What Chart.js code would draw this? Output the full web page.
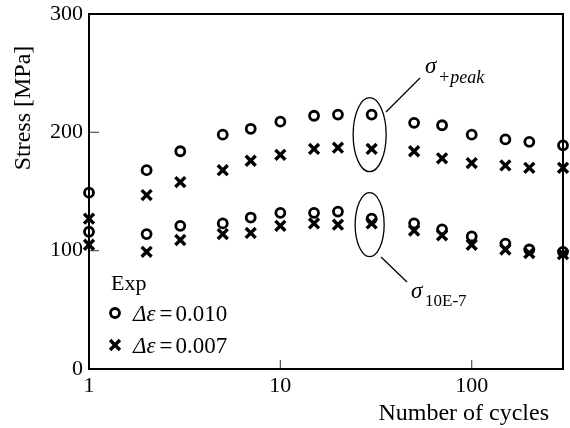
<!DOCTYPE html>
<html>
<head>
<meta charset="utf-8">
<script src="https://cdn.jsdelivr.net/npm/chart.js@4.4.1/dist/chart.umd.min.js"></script>
<style>
  html, body { margin: 0; padding: 0; background: #fff; }
  #wrap { width: 570px; height: 428px; }
</style>
</head>
<body>
<div id="wrap"><canvas id="stressChart"></canvas></div>
<script>
// cycle numbers where stresses were measured
const cycles = [1, 2, 3, 5, 7, 10, 15, 20, 30, 50, 70, 100, 150, 200, 300];

// peak stress (MPa)
const peak010 = [149, 168, 184, 198, 203, 209, 214, 215, 215, 208, 206, 198, 194, 192, 189];
const peak007 = [127, 147, 158, 168, 176, 181, 186, 187, 186, 184, 178, 174, 172, 170, 170];

// stress at 10E-7 offset (MPa)
const off010 = [116, 114, 121, 123, 128, 132, 132, 133, 127, 123, 118, 112, 106, 101, 99];
const off007 = [105, 99, 109, 114, 115, 121, 123, 122, 123, 117, 113, 105, 101, 98, 97];

const xTicks = [1, 10, 100];
const yTicks = [0, 100, 200, 300];

const SERIF = '"Liberation Serif", "Times New Roman", serif';

const toPoints = (ys) => cycles.map((c, i) => ({ x: c, y: ys[i] }));

const circleStyle = {
  pointStyle: "circle",
  pointRadius: 4.5,
  pointBorderWidth: 2.8,
  borderColor: "#000",
  backgroundColor: "rgba(0,0,0,0)",
  showLine: false,
  clip: false,
};
const crossStyle = {
  pointStyle: "crossRot",
  pointRadius: 7,
  pointBorderWidth: 3.4,
  borderColor: "#000",
  backgroundColor: "#000",
  showLine: false,
  clip: false,
};

// frame and inward ticks
const framePlugin = {
  id: "frame",
  beforeDatasetsDraw(chart) {
    const { ctx, chartArea: a, scales } = chart;
    ctx.save();
    ctx.strokeStyle = "#555";
    ctx.lineWidth = 1.2;
    [100, 200].forEach((v) => {
      const y = scales.y.getPixelForValue(v);
      ctx.beginPath();
      ctx.moveTo(a.left, y);
      ctx.lineTo(a.left + 10, y);
      ctx.stroke();
    });
    [10, 100].forEach((v) => {
      const x = scales.x.getPixelForValue(v);
      ctx.beginPath();
      ctx.moveTo(x, a.bottom);
      ctx.lineTo(x, a.bottom - 9);
      ctx.stroke();
    });
    ctx.strokeStyle = "#000";
    ctx.lineWidth = 2;
    ctx.strokeRect(a.left, a.top, a.right - a.left, a.bottom - a.top);
    ctx.restore();
  },
};

// ellipses, sigma labels, legend and axis titles
const notesPlugin = {
  id: "notes",
  afterDatasetsDraw(chart) {
    const { ctx, scales } = chart;
    ctx.save();
    ctx.strokeStyle = "#000";
    ctx.fillStyle = "#000";
    ctx.lineWidth = 1.3;

    const ell = (cx, cy, rx, ry) => {
      const px = scales.x.getPixelForValue(cx) - 2;
      const py = scales.y.getPixelForValue(cy);
      ctx.beginPath();
      ctx.ellipse(px, py, rx, ry, 0, 0, Math.PI * 2);
      ctx.stroke();
    };
    ell(30, 198, 16.5, 37);
    ell(30, 122, 14.5, 32);

    ctx.beginPath();
    ctx.moveTo(386, 112);
    ctx.lineTo(420, 78);
    ctx.moveTo(381, 257);
    ctx.lineTo(407, 282);
    ctx.stroke();

    ctx.textAlign = "left";
    ctx.textBaseline = "alphabetic";
    ctx.font = "italic 23px " + SERIF;
    ctx.fillText("σ", 425, 73);
    ctx.font = "italic 18px " + SERIF;
    ctx.fillText("+peak", 438, 83);
    ctx.font = "italic 23px " + SERIF;
    ctx.fillText("σ", 411, 298);
    ctx.font = "17px " + SERIF;
    ctx.fillText("10E-7", 425, 306);

    // legend
    ctx.font = "22px " + SERIF;
    ctx.fillText("Exp", 111, 290);
    const rows = [
      { style: circleStyle, y: 313, value: "0.010" },
      { style: crossStyle, y: 345, value: "0.007" },
    ];
    rows.forEach((r) => {
      ctx.save();
      ctx.lineWidth = r.style.pointBorderWidth;
      ctx.fillStyle = r.style.backgroundColor;
      Chart.helpers.drawPoint(ctx, {
        pointStyle: r.style.pointStyle,
        radius: r.style.pointRadius,
        rotation: 0,
        borderWidth: r.style.pointBorderWidth,
      }, 115, r.y);
      ctx.restore();
      let x = 133;
      const base = r.y + 8;
      ctx.font = "italic 23px " + SERIF;
      ctx.fillText("Δε", x, base);
      x += ctx.measureText("Δε").width + 4;
      ctx.font = "23px " + SERIF;
      ctx.fillText("=", x, base);
      x += ctx.measureText("=").width + 3;
      ctx.fillText(r.value, x, base);
    });

    // axis titles
    ctx.font = "24px " + SERIF;
    ctx.textAlign = "right";
    ctx.fillText("Number of cycles", 549, 420);
    ctx.translate(30, 108);
    ctx.rotate(-Math.PI / 2);
    ctx.textAlign = "center";
    ctx.fillText("Stress [MPa]", 0, 0);
    ctx.restore();
  },
};

new Chart(document.getElementById("stressChart"), {
  type: "scatter",
  data: {
    datasets: [
      { label: "peak 0.010", data: toPoints(peak010), ...circleStyle },
      { label: "peak 0.007", data: toPoints(peak007), ...crossStyle },
      { label: "10E-7 0.010", data: toPoints(off010), ...circleStyle },
      { label: "10E-7 0.007", data: toPoints(off007), ...crossStyle },
    ],
  },
  options: {
    responsive: true,
    maintainAspectRatio: false,
    animation: false,
    events: [],
    layout: {
      autoPadding: false,
      padding: { top: 14, right: 7, left: 0, bottom: 0 },
    },
    plugins: {
      legend: { display: false },
      tooltip: { enabled: false },
      title: { display: false },
    },
    scales: {
      x: {
        type: "logarithmic",
        min: 1,
        max: 300,
        afterBuildTicks: (scale) => {
          scale.ticks = xTicks.map((v) => ({ value: v }));
        },
        afterFit: (scale) => {
          scale.height = 59;
          scale.paddingLeft = 0;
          scale.paddingRight = 0;
        },
        grid: { display: false, drawTicks: false },
        border: { display: false },
        ticks: {
          color: "#000",
          padding: 4,
          maxRotation: 0,
          autoSkip: false,
          font: { family: SERIF, size: 22 },
          callback: (v) => String(v),
        },
      },
      y: {
        min: 0,
        max: 300,
        afterBuildTicks: (scale) => {
          scale.ticks = yTicks.map((v) => ({ value: v }));
        },
        afterFit: (scale) => {
          scale.width = 89;
          scale.paddingTop = 0;
          scale.paddingBottom = 0;
        },
        grid: { display: false, drawTicks: false },
        border: { display: false },
        ticks: {
          color: "#000",
          padding: 6,
          font: { family: SERIF, size: 22 },
        },
      },
    },
  },
  plugins: [framePlugin, notesPlugin],
});
</script>
</body>
</html>
